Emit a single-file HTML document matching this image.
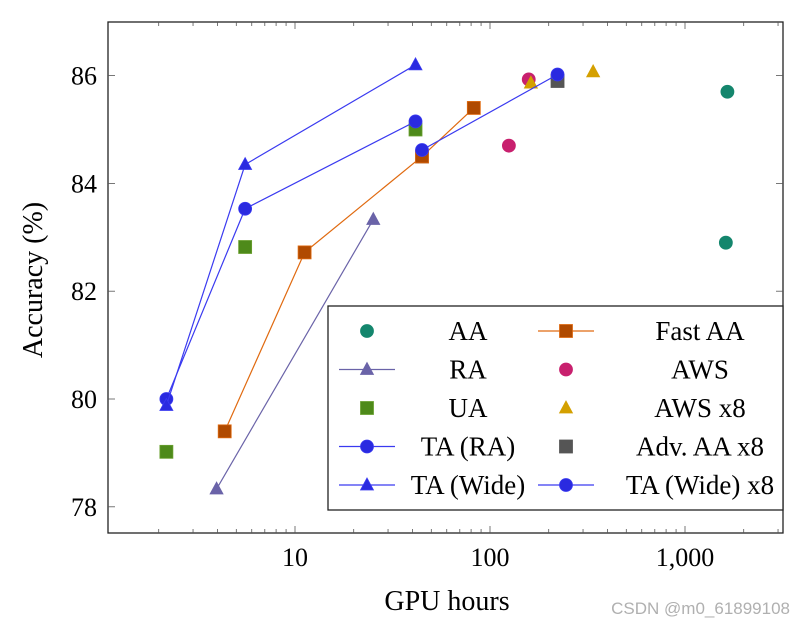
<!DOCTYPE html>
<html><head><meta charset="utf-8"><style>
body{margin:0;background:#fff;}
svg text{font-family:"Liberation Serif",serif;}
</style></head><body>
<svg id="chart" width="807" height="628" viewBox="0 0 807 628" xmlns="http://www.w3.org/2000/svg">
<g id="grid"></g>
<g id="marks"></g>
<g id="legend"></g>
<text x="447" y="610" font-size="28" text-anchor="middle">GPU hours</text>
<text x="0" y="0" font-size="28" text-anchor="middle" transform="translate(42,280) rotate(-90)">Accuracy (%)</text>
<text x="790" y="614" font-size="17" text-anchor="end" fill="#b0b0b0" style="font-family:'Liberation Sans',sans-serif">CSDN @m0_61899108</text>
</svg>
<script>
const xTickValues=[10,100,1000];
const xTickLabels=["10","100","1,000"];
const yTickValues=[78,80,82,84,86];
const seriesNames=["AA","Fast AA","RA","AWS","UA","AWS x8","TA (RA)","Adv. AA x8","TA (Wide)","TA (Wide) x8"];
const aaX=[1650,1620], aaY=[85.7,82.9];
const fastX=[4.36,11.2,44.8,82.6], fastY=[79.4,82.72,84.5,85.4];
const raX=[3.96,25.2], raY=[78.33,83.33];
const awsX=[158,125], awsY=[85.93,84.7];
const uaX=[2.19,5.55,41.5], uaY=[79.02,82.82,85.0];
const aws8X=[162,338], aws8Y=[85.86,86.07];
const taRaX=[2.19,5.55,41.5], taRaY=[80.0,83.53,85.15];
const advX=[44.8,222], advY=[84.5,85.9];
const taWX=[2.19,5.55,41.5], taWY=[79.88,84.35,86.2];
const taW8X=[44.8,222], taW8Y=[84.62,86.02];

const L=108,R=783,T=22,B=533;
function xs(v){return 295+195*Math.log10(v/10);}
function ys(v){return 399-(v-80)*53.9;}
const NS="http://www.w3.org/2000/svg";
function mk(parent,tag,attrs){const e=document.createElementNS(NS,tag);for(const k in attrs)e.setAttribute(k,attrs[k]);parent.appendChild(e);return e;}
const grid=document.getElementById('grid'),marks=document.getElementById('marks'),leg=document.getElementById('legend');

let box=mk(grid,'rect',{x:L,y:T,width:R-L,height:B-T,fill:'none',stroke:'#222','stroke-width':1.3});


for(let d=1;d<=1000;d*=10){for(let m=1;m<10;m++){const v=d*m;const x=xs(v);if(x<L||x>R)continue;const major=(m===1);const len=major?7:4;
mk(grid,'line',{x1:x,x2:x,y1:B,y2:B-len,stroke:'#555','stroke-width':0.8});
mk(grid,'line',{x1:x,x2:x,y1:T,y2:T+len,stroke:'#555','stroke-width':0.8});}}
xTickValues.forEach((v,i)=>{const t=mk(grid,'text',{x:xs(v),y:B+33,'font-size':26,'text-anchor':'middle'});t.textContent=xTickLabels[i];

});
yTickValues.forEach(v=>{const y=ys(v);
mk(grid,'line',{x1:L,x2:L+7,y1:y,y2:y,stroke:'#555','stroke-width':0.8});
mk(grid,'line',{x1:R,x2:R-7,y1:y,y2:y,stroke:'#555','stroke-width':0.8});
const t=mk(grid,'text',{x:97,y:y+9,'font-size':26,'text-anchor':'end'});t.textContent=String(v);

});

function marker(g,shape,x,y,fill,stroke){
 if(shape==='circle')return mk(g,'circle',{cx:x,cy:y,r:6.5,fill:fill,stroke:stroke,'stroke-width':0.8});
 if(shape==='square')return mk(g,'rect',{x:x-6.5,y:y-6.5,width:13,height:13,fill:fill,stroke:stroke,'stroke-width':0.8});
 return mk(g,'polygon',{points:`${x},${y-7} ${x-6.5},${y+5} ${x+6.5},${y+5}`,fill:fill,stroke:stroke,'stroke-width':0.8});
}
function series(name,X,Y,shape,fill,stroke,line){
 const g=mk(marks,'g',{});
 
 
 if(line){const pts=X.map((v,i)=>xs(v)+','+ys(Y[i])).join(' ');mk(g,'polyline',{points:pts,fill:'none',stroke:line,'stroke-width':1.2});}
 X.forEach((v,i)=>{const m=marker(g,shape,xs(v),ys(Y[i]),fill,stroke);
 
 });
}
const st={
 "AA":['circle','#14866d','#14866d',null],
 "Fast AA":['square','#b04a00','#e06a10','#e06a10'],
 "RA":['triangle','#6a63a8','#6a63a8','#6a63a8'],
 "AWS":['circle','#c8206e','#c8206e',null],
 "UA":['square','#4e8a1a','#6aa030',null],
 "AWS x8":['triangle','#d4a000','#d4a000',null],
 "TA (RA)":['circle','#2a2ae0','#3a3af0','#3a3af0'],
 "Adv. AA x8":['square','#555','#555',null],
 "TA (Wide)":['triangle','#2a2ae0','#3a3af0','#3a3af0'],
 "TA (Wide) x8":['circle','#2a2ae0','#3a3af0','#3a3af0']};
series("AA",aaX,aaY,...st["AA"]);
series("UA",uaX,uaY,...st["UA"]);
series("Adv. AA x8",advX,advY,...st["Adv. AA x8"]);
series("Fast AA",fastX,fastY,...st["Fast AA"]);
series("RA",raX,raY,...st["RA"]);
series("AWS",awsX,awsY,...st["AWS"]);
series("AWS x8",aws8X,aws8Y,...st["AWS x8"]);
series("TA (RA)",taRaX,taRaY,...st["TA (RA)"]);
series("TA (Wide)",taWX,taWY,...st["TA (Wide)"]);
series("TA (Wide) x8",taW8X,taW8Y,...st["TA (Wide) x8"]);

const lb=mk(leg,'rect',{x:328,y:306,width:455,height:204,fill:'#fff',stroke:'#222','stroke-width':1.3});


seriesNames.forEach((n,i)=>{const col=i%2,row=Math.floor(i/2);const y=331+row*38.5;
 const mx=col?566:367, tx=col?700:468;
 const g=mk(leg,'g',{});
 
 
 const s=st[n];
 if(s[3])mk(g,'line',{x1:mx-28,x2:mx+28,y1:y,y2:y,stroke:s[3],'stroke-width':1.2});
 marker(g,s[0],mx,y,s[1],s[2]);
 const t=mk(g,'text',{x:tx,y:y+9,'font-size':27,'text-anchor':'middle'});t.textContent=n;});
</script>
</body></html>
